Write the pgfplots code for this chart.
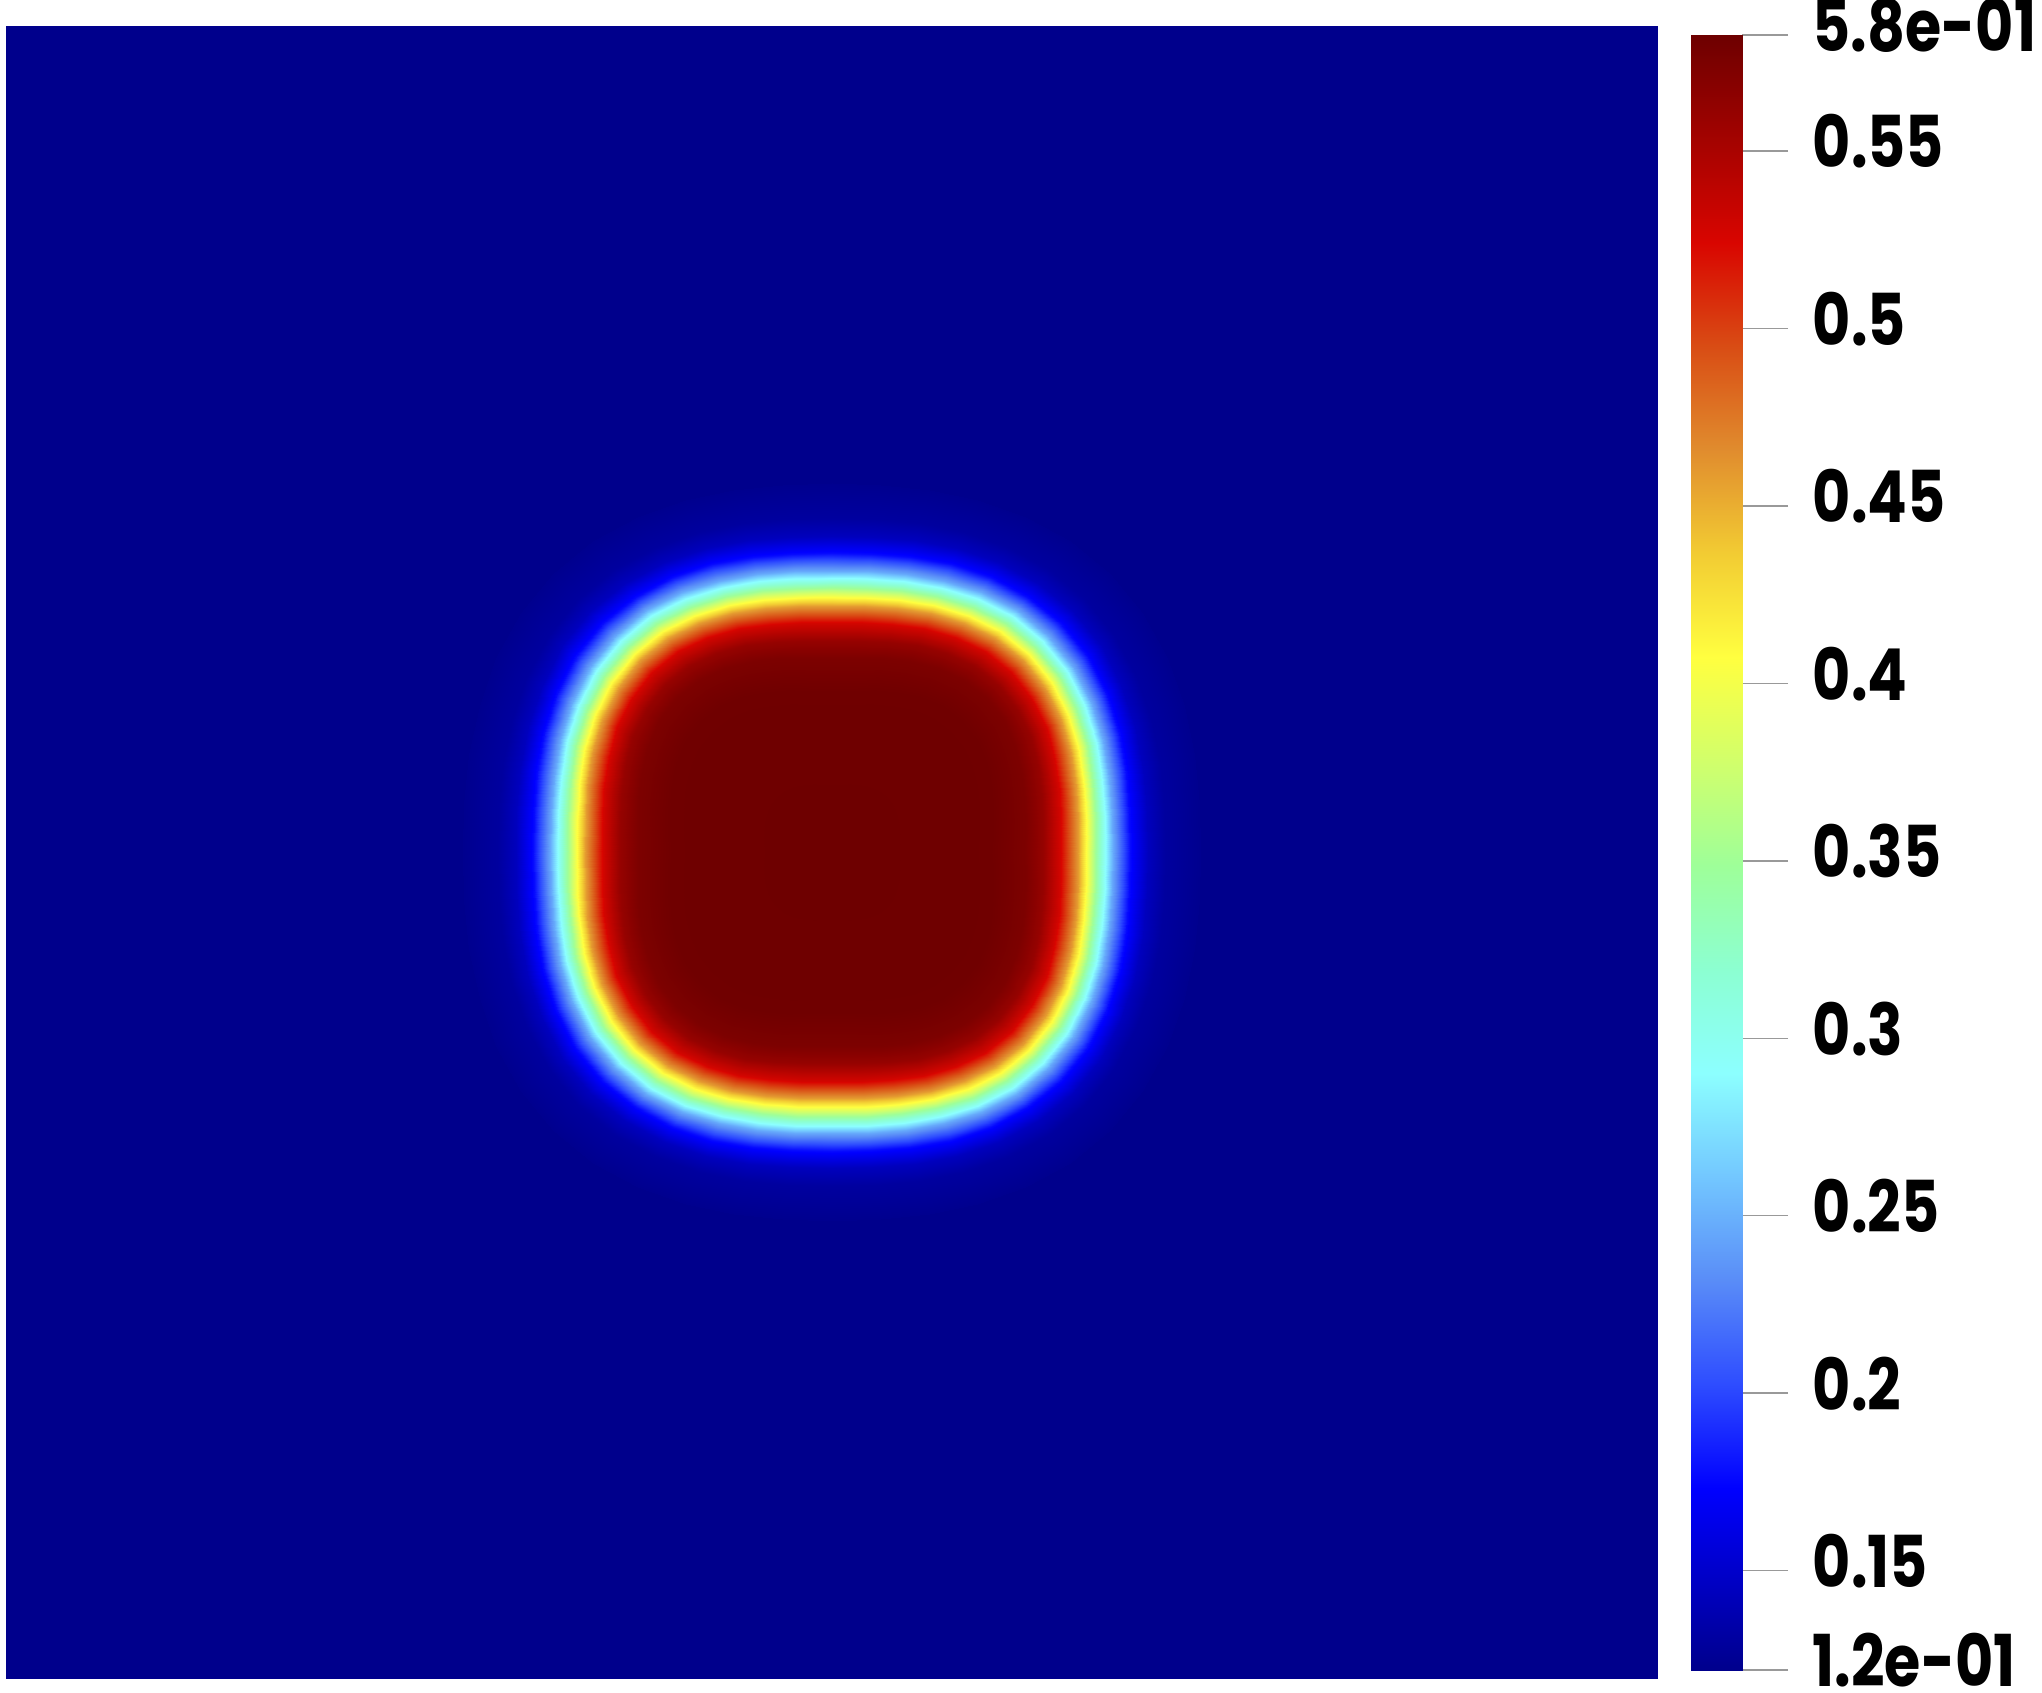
\documentclass[border=0pt]{standalone}
\usepackage{fontspec}
\setmainfont{Poppins}[FakeStretch=0.82]
\usepackage{pgfplots}
\pgfplotsset{compat=1.18}
\begin{document}
\begin{tikzpicture}
\path[use as bounding box] (0,0) rectangle (510.5pt,423pt);
\pgfplotsset{colormap={pvjet}{[1pt]
 rgb(0pt)=(0,0,0.55) rgb(28pt)=(0,0,1) rgb(44pt)=(0.18,0.3,1)
 rgb(60pt)=(0.35,0.55,0.97) rgb(76pt)=(0.45,0.78,1) rgb(92pt)=(0.55,1,1)
 rgb(108pt)=(0.55,1,0.82) rgb(124pt)=(0.62,1,0.6)
 rgb(140pt)=(0.82,1,0.42) rgb(156pt)=(1,1,0.25)
 rgb(172pt)=(0.95,0.8,0.2) rgb(188pt)=(0.88,0.55,0.18) rgb(204pt)=(0.85,0.3,0.08) rgb(220pt)=(0.85,0.02,0)
 rgb(252pt)=(0.43,0,0)}}
\begin{axis}[
  at={(1.5pt,3.5pt)}, anchor=south west,
  scale only axis, width=412.75pt, height=413pt,
  xmin=-0.5, xmax=0.5, ymin=-0.5, ymax=0.5,
  enlargelimits=false,
  hide axis,
  colormap name=pvjet,
  point meta min=0.122, point meta max=0.5827,
]
\addplot[surf, shader=interp, mesh/cols=2, point meta=\thisrow{v}] table[row sep=\\] {
x y v\\
-0.5 -0.5 0.122\\ 0.5 -0.5 0.122\\
-0.5 0.5 0.122\\ 0.5 0.5 0.122\\
};
\addplot[surf, shader=interp, mesh/cols=12, point meta=\thisrow{v}] table[row sep=\\] {
x y v\\
0 0 0.5827\\ 0.0963 0 0.5816\\ 0.1174 0 0.5744\\ 0.1280 0 0.5609\\ 0.1386 0 0.5278\\ 0.1491 0 0.4588\\ 0.1597 0 0.3524\\ 0.1703 0 0.2459\\ 0.1809 0 0.1769\\ 0.1914 0 0.1439\\ 0.2020 0 0.1303\\ 0.2232 0 0.1231\\
0 0 0.5827\\ 0.0965 0.0127 0.5816\\ 0.1175 0.0155 0.5744\\ 0.1280 0.0169 0.5609\\ 0.1385 0.0182 0.5278\\ 0.1490 0.0196 0.4588\\ 0.1595 0.0210 0.3524\\ 0.1699 0.0224 0.2459\\ 0.1804 0.0238 0.1769\\ 0.1909 0.0251 0.1439\\ 0.2014 0.0265 0.1303\\ 0.2224 0.0293 0.1231\\
0 0 0.5827\\ 0.0968 0.0259 0.5816\\ 0.1172 0.0314 0.5744\\ 0.1274 0.0341 0.5609\\ 0.1376 0.0369 0.5278\\ 0.1478 0.0396 0.4588\\ 0.1580 0.0423 0.3524\\ 0.1683 0.0451 0.2459\\ 0.1785 0.0478 0.1769\\ 0.1887 0.0506 0.1439\\ 0.1989 0.0533 0.1303\\ 0.2193 0.0588 0.1231\\
0 0 0.5827\\ 0.0959 0.0397 0.5816\\ 0.1155 0.0478 0.5744\\ 0.1252 0.0519 0.5609\\ 0.1350 0.0559 0.5278\\ 0.1448 0.0600 0.4588\\ 0.1545 0.0640 0.3524\\ 0.1643 0.0681 0.2459\\ 0.1741 0.0721 0.1769\\ 0.1839 0.0762 0.1439\\ 0.1936 0.0802 0.1303\\ 0.2132 0.0883 0.1231\\
0 0 0.5827\\ 0.0931 0.0538 0.5816\\ 0.1114 0.0643 0.5744\\ 0.1206 0.0696 0.5609\\ 0.1297 0.0749 0.5278\\ 0.1389 0.0802 0.4588\\ 0.1480 0.0855 0.3524\\ 0.1572 0.0908 0.2459\\ 0.1664 0.0961 0.1769\\ 0.1755 0.1013 0.1439\\ 0.1847 0.1066 0.1303\\ 0.2030 0.1172 0.1231\\
0 0 0.5827\\ 0.0875 0.0671 0.5816\\ 0.1042 0.0800 0.5744\\ 0.1126 0.0864 0.5609\\ 0.1210 0.0929 0.5278\\ 0.1294 0.0993 0.4588\\ 0.1378 0.1057 0.3524\\ 0.1462 0.1122 0.2459\\ 0.1546 0.1186 0.1769\\ 0.1630 0.1251 0.1439\\ 0.1714 0.1315 0.1303\\ 0.1881 0.1444 0.1231\\
0 0 0.5827\\ 0.0787 0.0787 0.5816\\ 0.0936 0.0936 0.5744\\ 0.1011 0.1011 0.5609\\ 0.1086 0.1086 0.5278\\ 0.1161 0.1161 0.4588\\ 0.1235 0.1235 0.3524\\ 0.1310 0.1310 0.2459\\ 0.1385 0.1385 0.1769\\ 0.1460 0.1460 0.1439\\ 0.1534 0.1534 0.1303\\ 0.1684 0.1684 0.1231\\
0 0 0.5827\\ 0.0671 0.0875 0.5816\\ 0.0800 0.1042 0.5744\\ 0.0864 0.1126 0.5609\\ 0.0929 0.1210 0.5278\\ 0.0993 0.1294 0.4588\\ 0.1057 0.1378 0.3524\\ 0.1122 0.1462 0.2459\\ 0.1186 0.1546 0.1769\\ 0.1251 0.1630 0.1439\\ 0.1315 0.1714 0.1303\\ 0.1444 0.1881 0.1231\\
0 0 0.5827\\ 0.0538 0.0931 0.5816\\ 0.0643 0.1114 0.5744\\ 0.0696 0.1206 0.5609\\ 0.0749 0.1297 0.5278\\ 0.0802 0.1389 0.4588\\ 0.0855 0.1480 0.3524\\ 0.0908 0.1572 0.2459\\ 0.0961 0.1664 0.1769\\ 0.1013 0.1755 0.1439\\ 0.1066 0.1847 0.1303\\ 0.1172 0.2030 0.1231\\
0 0 0.5827\\ 0.0397 0.0959 0.5816\\ 0.0478 0.1155 0.5744\\ 0.0519 0.1252 0.5609\\ 0.0559 0.1350 0.5278\\ 0.0600 0.1448 0.4588\\ 0.0640 0.1545 0.3524\\ 0.0681 0.1643 0.2459\\ 0.0721 0.1741 0.1769\\ 0.0762 0.1839 0.1439\\ 0.0802 0.1936 0.1303\\ 0.0883 0.2132 0.1231\\
0 0 0.5827\\ 0.0259 0.0968 0.5816\\ 0.0314 0.1172 0.5744\\ 0.0341 0.1274 0.5609\\ 0.0369 0.1376 0.5278\\ 0.0396 0.1478 0.4588\\ 0.0423 0.1580 0.3524\\ 0.0451 0.1683 0.2459\\ 0.0478 0.1785 0.1769\\ 0.0506 0.1887 0.1439\\ 0.0533 0.1989 0.1303\\ 0.0588 0.2193 0.1231\\
0 0 0.5827\\ 0.0127 0.0965 0.5816\\ 0.0155 0.1175 0.5744\\ 0.0169 0.1280 0.5609\\ 0.0182 0.1385 0.5278\\ 0.0196 0.1490 0.4588\\ 0.0210 0.1595 0.3524\\ 0.0224 0.1699 0.2459\\ 0.0238 0.1804 0.1769\\ 0.0251 0.1909 0.1439\\ 0.0265 0.2014 0.1303\\ 0.0293 0.2224 0.1231\\
0 0 0.5827\\ 0 0.0963 0.5816\\ 0 0.1174 0.5744\\ 0 0.1280 0.5609\\ 0 0.1386 0.5278\\ 0 0.1491 0.4588\\ 0 0.1597 0.3524\\ 0 0.1703 0.2459\\ 0 0.1809 0.1769\\ 0 0.1914 0.1439\\ 0 0.2020 0.1303\\ 0 0.2232 0.1231\\
0 0 0.5827\\ -0.0127 0.0965 0.5816\\ -0.0155 0.1175 0.5744\\ -0.0169 0.1280 0.5609\\ -0.0182 0.1385 0.5278\\ -0.0196 0.1490 0.4588\\ -0.0210 0.1595 0.3524\\ -0.0224 0.1699 0.2459\\ -0.0238 0.1804 0.1769\\ -0.0251 0.1909 0.1439\\ -0.0265 0.2014 0.1303\\ -0.0293 0.2224 0.1231\\
0 0 0.5827\\ -0.0259 0.0968 0.5816\\ -0.0314 0.1172 0.5744\\ -0.0341 0.1274 0.5609\\ -0.0369 0.1376 0.5278\\ -0.0396 0.1478 0.4588\\ -0.0423 0.1580 0.3524\\ -0.0451 0.1683 0.2459\\ -0.0478 0.1785 0.1769\\ -0.0506 0.1887 0.1439\\ -0.0533 0.1989 0.1303\\ -0.0588 0.2193 0.1231\\
0 0 0.5827\\ -0.0397 0.0959 0.5816\\ -0.0478 0.1155 0.5744\\ -0.0519 0.1252 0.5609\\ -0.0559 0.1350 0.5278\\ -0.0600 0.1448 0.4588\\ -0.0640 0.1545 0.3524\\ -0.0681 0.1643 0.2459\\ -0.0721 0.1741 0.1769\\ -0.0762 0.1839 0.1439\\ -0.0802 0.1936 0.1303\\ -0.0883 0.2132 0.1231\\
0 0 0.5827\\ -0.0538 0.0931 0.5816\\ -0.0643 0.1114 0.5744\\ -0.0696 0.1206 0.5609\\ -0.0749 0.1297 0.5278\\ -0.0802 0.1389 0.4588\\ -0.0855 0.1480 0.3524\\ -0.0908 0.1572 0.2459\\ -0.0961 0.1664 0.1769\\ -0.1013 0.1755 0.1439\\ -0.1066 0.1847 0.1303\\ -0.1172 0.2030 0.1231\\
0 0 0.5827\\ -0.0671 0.0875 0.5816\\ -0.0800 0.1042 0.5744\\ -0.0864 0.1126 0.5609\\ -0.0929 0.1210 0.5278\\ -0.0993 0.1294 0.4588\\ -0.1057 0.1378 0.3524\\ -0.1122 0.1462 0.2459\\ -0.1186 0.1546 0.1769\\ -0.1251 0.1630 0.1439\\ -0.1315 0.1714 0.1303\\ -0.1444 0.1881 0.1231\\
0 0 0.5827\\ -0.0787 0.0787 0.5816\\ -0.0936 0.0936 0.5744\\ -0.1011 0.1011 0.5609\\ -0.1086 0.1086 0.5278\\ -0.1161 0.1161 0.4588\\ -0.1235 0.1235 0.3524\\ -0.1310 0.1310 0.2459\\ -0.1385 0.1385 0.1769\\ -0.1460 0.1460 0.1439\\ -0.1534 0.1534 0.1303\\ -0.1684 0.1684 0.1231\\
0 0 0.5827\\ -0.0875 0.0671 0.5816\\ -0.1042 0.0800 0.5744\\ -0.1126 0.0864 0.5609\\ -0.1210 0.0929 0.5278\\ -0.1294 0.0993 0.4588\\ -0.1378 0.1057 0.3524\\ -0.1462 0.1122 0.2459\\ -0.1546 0.1186 0.1769\\ -0.1630 0.1251 0.1439\\ -0.1714 0.1315 0.1303\\ -0.1881 0.1444 0.1231\\
0 0 0.5827\\ -0.0931 0.0538 0.5816\\ -0.1114 0.0643 0.5744\\ -0.1206 0.0696 0.5609\\ -0.1297 0.0749 0.5278\\ -0.1389 0.0802 0.4588\\ -0.1480 0.0855 0.3524\\ -0.1572 0.0908 0.2459\\ -0.1664 0.0961 0.1769\\ -0.1755 0.1013 0.1439\\ -0.1847 0.1066 0.1303\\ -0.2030 0.1172 0.1231\\
0 0 0.5827\\ -0.0959 0.0397 0.5816\\ -0.1155 0.0478 0.5744\\ -0.1252 0.0519 0.5609\\ -0.1350 0.0559 0.5278\\ -0.1448 0.0600 0.4588\\ -0.1545 0.0640 0.3524\\ -0.1643 0.0681 0.2459\\ -0.1741 0.0721 0.1769\\ -0.1839 0.0762 0.1439\\ -0.1936 0.0802 0.1303\\ -0.2132 0.0883 0.1231\\
0 0 0.5827\\ -0.0968 0.0259 0.5816\\ -0.1172 0.0314 0.5744\\ -0.1274 0.0341 0.5609\\ -0.1376 0.0369 0.5278\\ -0.1478 0.0396 0.4588\\ -0.1580 0.0423 0.3524\\ -0.1683 0.0451 0.2459\\ -0.1785 0.0478 0.1769\\ -0.1887 0.0506 0.1439\\ -0.1989 0.0533 0.1303\\ -0.2193 0.0588 0.1231\\
0 0 0.5827\\ -0.0965 0.0127 0.5816\\ -0.1175 0.0155 0.5744\\ -0.1280 0.0169 0.5609\\ -0.1385 0.0182 0.5278\\ -0.1490 0.0196 0.4588\\ -0.1595 0.0210 0.3524\\ -0.1699 0.0224 0.2459\\ -0.1804 0.0238 0.1769\\ -0.1909 0.0251 0.1439\\ -0.2014 0.0265 0.1303\\ -0.2224 0.0293 0.1231\\
0 0 0.5827\\ -0.0963 0 0.5816\\ -0.1174 0 0.5744\\ -0.1280 0 0.5609\\ -0.1386 0 0.5278\\ -0.1491 0 0.4588\\ -0.1597 0 0.3524\\ -0.1703 0 0.2459\\ -0.1809 0 0.1769\\ -0.1914 0 0.1439\\ -0.2020 0 0.1303\\ -0.2232 0 0.1231\\
0 0 0.5827\\ -0.0965 -0.0127 0.5816\\ -0.1175 -0.0155 0.5744\\ -0.1280 -0.0169 0.5609\\ -0.1385 -0.0182 0.5278\\ -0.1490 -0.0196 0.4588\\ -0.1595 -0.0210 0.3524\\ -0.1699 -0.0224 0.2459\\ -0.1804 -0.0238 0.1769\\ -0.1909 -0.0251 0.1439\\ -0.2014 -0.0265 0.1303\\ -0.2224 -0.0293 0.1231\\
0 0 0.5827\\ -0.0968 -0.0259 0.5816\\ -0.1172 -0.0314 0.5744\\ -0.1274 -0.0341 0.5609\\ -0.1376 -0.0369 0.5278\\ -0.1478 -0.0396 0.4588\\ -0.1580 -0.0423 0.3524\\ -0.1683 -0.0451 0.2459\\ -0.1785 -0.0478 0.1769\\ -0.1887 -0.0506 0.1439\\ -0.1989 -0.0533 0.1303\\ -0.2193 -0.0588 0.1231\\
0 0 0.5827\\ -0.0959 -0.0397 0.5816\\ -0.1155 -0.0478 0.5744\\ -0.1252 -0.0519 0.5609\\ -0.1350 -0.0559 0.5278\\ -0.1448 -0.0600 0.4588\\ -0.1545 -0.0640 0.3524\\ -0.1643 -0.0681 0.2459\\ -0.1741 -0.0721 0.1769\\ -0.1839 -0.0762 0.1439\\ -0.1936 -0.0802 0.1303\\ -0.2132 -0.0883 0.1231\\
0 0 0.5827\\ -0.0931 -0.0538 0.5816\\ -0.1114 -0.0643 0.5744\\ -0.1206 -0.0696 0.5609\\ -0.1297 -0.0749 0.5278\\ -0.1389 -0.0802 0.4588\\ -0.1480 -0.0855 0.3524\\ -0.1572 -0.0908 0.2459\\ -0.1664 -0.0961 0.1769\\ -0.1755 -0.1013 0.1439\\ -0.1847 -0.1066 0.1303\\ -0.2030 -0.1172 0.1231\\
0 0 0.5827\\ -0.0875 -0.0671 0.5816\\ -0.1042 -0.0800 0.5744\\ -0.1126 -0.0864 0.5609\\ -0.1210 -0.0929 0.5278\\ -0.1294 -0.0993 0.4588\\ -0.1378 -0.1057 0.3524\\ -0.1462 -0.1122 0.2459\\ -0.1546 -0.1186 0.1769\\ -0.1630 -0.1251 0.1439\\ -0.1714 -0.1315 0.1303\\ -0.1881 -0.1444 0.1231\\
0 0 0.5827\\ -0.0787 -0.0787 0.5816\\ -0.0936 -0.0936 0.5744\\ -0.1011 -0.1011 0.5609\\ -0.1086 -0.1086 0.5278\\ -0.1161 -0.1161 0.4588\\ -0.1235 -0.1235 0.3524\\ -0.1310 -0.1310 0.2459\\ -0.1385 -0.1385 0.1769\\ -0.1460 -0.1460 0.1439\\ -0.1534 -0.1534 0.1303\\ -0.1684 -0.1684 0.1231\\
0 0 0.5827\\ -0.0671 -0.0875 0.5816\\ -0.0800 -0.1042 0.5744\\ -0.0864 -0.1126 0.5609\\ -0.0929 -0.1210 0.5278\\ -0.0993 -0.1294 0.4588\\ -0.1057 -0.1378 0.3524\\ -0.1122 -0.1462 0.2459\\ -0.1186 -0.1546 0.1769\\ -0.1251 -0.1630 0.1439\\ -0.1315 -0.1714 0.1303\\ -0.1444 -0.1881 0.1231\\
0 0 0.5827\\ -0.0538 -0.0931 0.5816\\ -0.0643 -0.1114 0.5744\\ -0.0696 -0.1206 0.5609\\ -0.0749 -0.1297 0.5278\\ -0.0802 -0.1389 0.4588\\ -0.0855 -0.1480 0.3524\\ -0.0908 -0.1572 0.2459\\ -0.0961 -0.1664 0.1769\\ -0.1013 -0.1755 0.1439\\ -0.1066 -0.1847 0.1303\\ -0.1172 -0.2030 0.1231\\
0 0 0.5827\\ -0.0397 -0.0959 0.5816\\ -0.0478 -0.1155 0.5744\\ -0.0519 -0.1252 0.5609\\ -0.0559 -0.1350 0.5278\\ -0.0600 -0.1448 0.4588\\ -0.0640 -0.1545 0.3524\\ -0.0681 -0.1643 0.2459\\ -0.0721 -0.1741 0.1769\\ -0.0762 -0.1839 0.1439\\ -0.0802 -0.1936 0.1303\\ -0.0883 -0.2132 0.1231\\
0 0 0.5827\\ -0.0259 -0.0968 0.5816\\ -0.0314 -0.1172 0.5744\\ -0.0341 -0.1274 0.5609\\ -0.0369 -0.1376 0.5278\\ -0.0396 -0.1478 0.4588\\ -0.0423 -0.1580 0.3524\\ -0.0451 -0.1683 0.2459\\ -0.0478 -0.1785 0.1769\\ -0.0506 -0.1887 0.1439\\ -0.0533 -0.1989 0.1303\\ -0.0588 -0.2193 0.1231\\
0 0 0.5827\\ -0.0127 -0.0965 0.5816\\ -0.0155 -0.1175 0.5744\\ -0.0169 -0.1280 0.5609\\ -0.0182 -0.1385 0.5278\\ -0.0196 -0.1490 0.4588\\ -0.0210 -0.1595 0.3524\\ -0.0224 -0.1699 0.2459\\ -0.0238 -0.1804 0.1769\\ -0.0251 -0.1909 0.1439\\ -0.0265 -0.2014 0.1303\\ -0.0293 -0.2224 0.1231\\
0 0 0.5827\\ 0 -0.0963 0.5816\\ 0 -0.1174 0.5744\\ 0 -0.1280 0.5609\\ 0 -0.1386 0.5278\\ 0 -0.1491 0.4588\\ 0 -0.1597 0.3524\\ 0 -0.1703 0.2459\\ 0 -0.1809 0.1769\\ 0 -0.1914 0.1439\\ 0 -0.2020 0.1303\\ 0 -0.2232 0.1231\\
0 0 0.5827\\ 0.0127 -0.0965 0.5816\\ 0.0155 -0.1175 0.5744\\ 0.0169 -0.1280 0.5609\\ 0.0182 -0.1385 0.5278\\ 0.0196 -0.1490 0.4588\\ 0.0210 -0.1595 0.3524\\ 0.0224 -0.1699 0.2459\\ 0.0238 -0.1804 0.1769\\ 0.0251 -0.1909 0.1439\\ 0.0265 -0.2014 0.1303\\ 0.0293 -0.2224 0.1231\\
0 0 0.5827\\ 0.0259 -0.0968 0.5816\\ 0.0314 -0.1172 0.5744\\ 0.0341 -0.1274 0.5609\\ 0.0369 -0.1376 0.5278\\ 0.0396 -0.1478 0.4588\\ 0.0423 -0.1580 0.3524\\ 0.0451 -0.1683 0.2459\\ 0.0478 -0.1785 0.1769\\ 0.0506 -0.1887 0.1439\\ 0.0533 -0.1989 0.1303\\ 0.0588 -0.2193 0.1231\\
0 0 0.5827\\ 0.0397 -0.0959 0.5816\\ 0.0478 -0.1155 0.5744\\ 0.0519 -0.1252 0.5609\\ 0.0559 -0.1350 0.5278\\ 0.0600 -0.1448 0.4588\\ 0.0640 -0.1545 0.3524\\ 0.0681 -0.1643 0.2459\\ 0.0721 -0.1741 0.1769\\ 0.0762 -0.1839 0.1439\\ 0.0802 -0.1936 0.1303\\ 0.0883 -0.2132 0.1231\\
0 0 0.5827\\ 0.0538 -0.0931 0.5816\\ 0.0643 -0.1114 0.5744\\ 0.0696 -0.1206 0.5609\\ 0.0749 -0.1297 0.5278\\ 0.0802 -0.1389 0.4588\\ 0.0855 -0.1480 0.3524\\ 0.0908 -0.1572 0.2459\\ 0.0961 -0.1664 0.1769\\ 0.1013 -0.1755 0.1439\\ 0.1066 -0.1847 0.1303\\ 0.1172 -0.2030 0.1231\\
0 0 0.5827\\ 0.0671 -0.0875 0.5816\\ 0.0800 -0.1042 0.5744\\ 0.0864 -0.1126 0.5609\\ 0.0929 -0.1210 0.5278\\ 0.0993 -0.1294 0.4588\\ 0.1057 -0.1378 0.3524\\ 0.1122 -0.1462 0.2459\\ 0.1186 -0.1546 0.1769\\ 0.1251 -0.1630 0.1439\\ 0.1315 -0.1714 0.1303\\ 0.1444 -0.1881 0.1231\\
0 0 0.5827\\ 0.0787 -0.0787 0.5816\\ 0.0936 -0.0936 0.5744\\ 0.1011 -0.1011 0.5609\\ 0.1086 -0.1086 0.5278\\ 0.1161 -0.1161 0.4588\\ 0.1235 -0.1235 0.3524\\ 0.1310 -0.1310 0.2459\\ 0.1385 -0.1385 0.1769\\ 0.1460 -0.1460 0.1439\\ 0.1534 -0.1534 0.1303\\ 0.1684 -0.1684 0.1231\\
0 0 0.5827\\ 0.0875 -0.0671 0.5816\\ 0.1042 -0.0800 0.5744\\ 0.1126 -0.0864 0.5609\\ 0.1210 -0.0929 0.5278\\ 0.1294 -0.0993 0.4588\\ 0.1378 -0.1057 0.3524\\ 0.1462 -0.1122 0.2459\\ 0.1546 -0.1186 0.1769\\ 0.1630 -0.1251 0.1439\\ 0.1714 -0.1315 0.1303\\ 0.1881 -0.1444 0.1231\\
0 0 0.5827\\ 0.0931 -0.0538 0.5816\\ 0.1114 -0.0643 0.5744\\ 0.1206 -0.0696 0.5609\\ 0.1297 -0.0749 0.5278\\ 0.1389 -0.0802 0.4588\\ 0.1480 -0.0855 0.3524\\ 0.1572 -0.0908 0.2459\\ 0.1664 -0.0961 0.1769\\ 0.1755 -0.1013 0.1439\\ 0.1847 -0.1066 0.1303\\ 0.2030 -0.1172 0.1231\\
0 0 0.5827\\ 0.0959 -0.0397 0.5816\\ 0.1155 -0.0478 0.5744\\ 0.1252 -0.0519 0.5609\\ 0.1350 -0.0559 0.5278\\ 0.1448 -0.0600 0.4588\\ 0.1545 -0.0640 0.3524\\ 0.1643 -0.0681 0.2459\\ 0.1741 -0.0721 0.1769\\ 0.1839 -0.0762 0.1439\\ 0.1936 -0.0802 0.1303\\ 0.2132 -0.0883 0.1231\\
0 0 0.5827\\ 0.0968 -0.0259 0.5816\\ 0.1172 -0.0314 0.5744\\ 0.1274 -0.0341 0.5609\\ 0.1376 -0.0369 0.5278\\ 0.1478 -0.0396 0.4588\\ 0.1580 -0.0423 0.3524\\ 0.1683 -0.0451 0.2459\\ 0.1785 -0.0478 0.1769\\ 0.1887 -0.0506 0.1439\\ 0.1989 -0.0533 0.1303\\ 0.2193 -0.0588 0.1231\\
0 0 0.5827\\ 0.0965 -0.0127 0.5816\\ 0.1175 -0.0155 0.5744\\ 0.1280 -0.0169 0.5609\\ 0.1385 -0.0182 0.5278\\ 0.1490 -0.0196 0.4588\\ 0.1595 -0.0210 0.3524\\ 0.1699 -0.0224 0.2459\\ 0.1804 -0.0238 0.1769\\ 0.1909 -0.0251 0.1439\\ 0.2014 -0.0265 0.1303\\ 0.2224 -0.0293 0.1231\\
0 0 0.5827\\ 0.0963 0 0.5816\\ 0.1174 0 0.5744\\ 0.1280 0 0.5609\\ 0.1386 0 0.5278\\ 0.1491 0 0.4588\\ 0.1597 0 0.3524\\ 0.1703 0 0.2459\\ 0.1809 0 0.1769\\ 0.1914 0 0.1439\\ 0.2020 0 0.1303\\ 0.2232 0 0.1231\\
};
\end{axis}
\begin{axis}[
  at={(422.75pt,5.5pt)}, anchor=south west,
  scale only axis, width=12.75pt, height=408.75pt,
  xmin=0, xmax=1, ymin=0.122, ymax=0.5827,
  enlargelimits=false,
  colormap name=pvjet,
  point meta min=0.122, point meta max=0.5827,
  axis line style={draw=none},
  xtick=\empty,
  ytick={0.122,0.15,0.2,0.25,0.3,0.35,0.4,0.45,0.5,0.55,0.5827},
  yticklabels={1.2e-01,0.15,0.2,0.25,0.3,0.35,0.4,0.45,0.5,0.55,5.8e-01},
  ytick pos=right, yticklabel pos=right,
  tick align=outside, major tick length=11.5pt,
  ytick style={draw=black!40, line width=0.35pt},
  yticklabel style={font=\fontsize{17.9pt}{20pt}\selectfont\bfseries, anchor=west, inner sep=0pt, xshift=6pt, yshift=2.4pt},
]
\addplot[surf, shader=interp, mesh/cols=2, point meta=\thisrow{v}] table[row sep=\\] {
x y v\\
0 0.122 0.122\\ 1 0.122 0.122\\
0 0.5827 0.5827\\ 1 0.5827 0.5827\\
};
\end{axis}
\end{tikzpicture}
\end{document}
